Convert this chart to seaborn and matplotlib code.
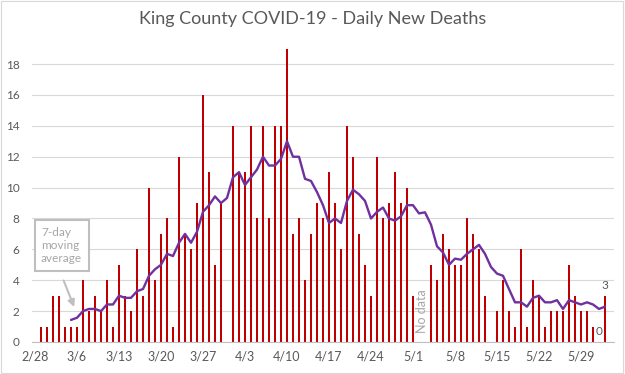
import numpy as np
import pandas as pd
import matplotlib
matplotlib.use("Agg")
import matplotlib.pyplot as plt
import seaborn as sns

# day index 0 = 2/28/2020; NaN = no data reported
deaths = [0, 1, 1, 3, 3, 1, 1, 1, 4, 2, 3, 2, 4, 1, 5, 3, 2, 6, 3, 10,
          4, 7, 8, 1, 12, 7, 6, 9, 16, 11, 5, 9, np.nan, 14, 11, 11, 14, 8, 14, 8,
          14, 14, 19, 7, 8, 4, 7, 9, 8, 11, 9, 6, 14, 12, 7, 5, 3, 12, 8, 9,
          11, 9, 10, 3, np.nan, np.nan, 5, 4, 7, 6, 5, 5, 8, 7, 6, 3, 0, 2, 4, 2,
          1, 6, 1, 4, 3, 1, 2, 2, 2, 5, 3, 2, 2, 1, 0, 3]

# 7-day moving average, starts at day 6 (3/5)
ma_start = 6
moving_avg = [1.43, 1.57, 2.0, 2.14, 2.14, 2.0, 2.43, 2.43, 3.0, 2.86, 2.86, 3.29, 3.43, 4.29,
              4.71, 5.0, 5.71, 5.57, 6.43, 7.0, 6.43, 7.14, 8.43, 8.86, 9.43, 9.0, 9.33, 10.67,
              11.0, 10.17, 10.67, 11.17, 12.0, 11.43, 11.43, 11.86, 13.0, 12.0, 12.0, 10.57, 10.43,
              9.71, 8.86, 7.71, 8.0, 7.71, 9.14, 9.86, 9.57, 9.14, 8.0, 8.43, 8.71, 8.0, 7.86,
              8.14, 8.86, 8.86, 8.33, 8.4, 7.6, 6.2, 5.8, 5.0, 5.4, 5.33, 5.71, 6.0, 6.29, 5.71,
              4.86, 4.43, 4.29, 3.43, 2.57, 2.57, 2.29, 2.86, 3.0, 2.57, 2.57, 2.71, 2.14, 2.71,
              2.57, 2.43, 2.57, 2.43, 2.14, 2.29]

tick_labels = ["2/28", "3/6", "3/13", "3/20", "3/27", "4/3", "4/10", "4/17",
               "4/24", "5/1", "5/8", "5/15", "5/22", "5/29"]

df = pd.DataFrame({"day": np.arange(len(deaths)), "deaths": deaths})
df_ma = pd.DataFrame({"day": np.arange(ma_start, ma_start + len(moving_avg)), "ma": moving_avg})

sns.set_style("white")
plt.rcParams['font.family'] = ['Lato', 'DejaVu Sans']

gray_txt = "#595959"
fig = plt.figure(figsize=(6.25, 3.74), dpi=100)
ax = fig.add_axes([32 / 625, 1 - 342 / 374, 582 / 625, (342 - 39.4) / 374])

sns.barplot(data=df.dropna(), x="day", y="deaths", native_scale=True, color="#c00000",
            saturation=1, width=0.45, errorbar=None, ax=ax, zorder=2,
            edgecolor="none", linewidth=0)
sns.lineplot(data=df_ma, x="day", y="ma", color="#7030a0", lw=1.7, ax=ax, zorder=3)

ax.set_xlim(-0.5, 96.5)
ax.set_ylim(0, 19.6)
ax.set_yticks(range(0, 19, 2))
ax.set_xticks(range(0, 92, 7))
ax.set_xticklabels(tick_labels)
ax.set_xticks(np.arange(-0.5, 97, 7), minor=True)
ax.tick_params(axis="x", which="major", length=0, pad=6, labelsize=9, labelcolor=gray_txt)
ax.tick_params(axis="x", which="minor", length=5, color="#bfbfbf", width=0.8)
ax.tick_params(axis="y", length=0, pad=9, labelsize=8.5, labelcolor=gray_txt)
ax.set_xlabel("")
ax.set_ylabel("")
ax.grid(axis="y", color="#d9d9d9", lw=0.8)
ax.set_axisbelow(True)
for s in ["left", "right", "top"]:
    ax.spines[s].set_visible(False)
ax.spines["bottom"].set_color("#bfbfbf")
ax.spines["bottom"].set_linewidth(0.8)

fig.suptitle("King County COVID-19 - Daily New Deaths", y=0.97, fontsize=13, color=gray_txt)

# data labels on the last two days
last = len(deaths) - 1
ax.text(last, deaths[last] + 0.3, "3", ha="center", va="bottom", fontsize=8.5, color=gray_txt)
ax.text(last - 1, 0.3, "0", ha="center", va="bottom", fontsize=8.5, color=gray_txt)

ax.text(64.5, 0.6, "No data", rotation=90, ha="center", va="bottom", fontsize=9, color="#a6a6a6")

# callout for moving average
ax.text(1.0, 7.45, "7-day\nmoving\naverage", ha="left", va="top", fontsize=8.5, color="#a6a6a6",
        linespacing=1.25,
        bbox=dict(boxstyle="square,pad=0.55", fc="white", ec="#bfbfbf", lw=1.5))
ax.annotate("", xy=(6.7, 2.1), xytext=(4.6, 4.15),
            arrowprops=dict(arrowstyle="-|>", color="#bfbfbf", lw=1.5, mutation_scale=10))

fig.patches.append(plt.Rectangle((0.002, 0.003), 0.995, 0.994, transform=fig.transFigure,
                                 fill=False, ec="#d9d9d9", lw=0.8))

fig.savefig("out.png", dpi=100)
